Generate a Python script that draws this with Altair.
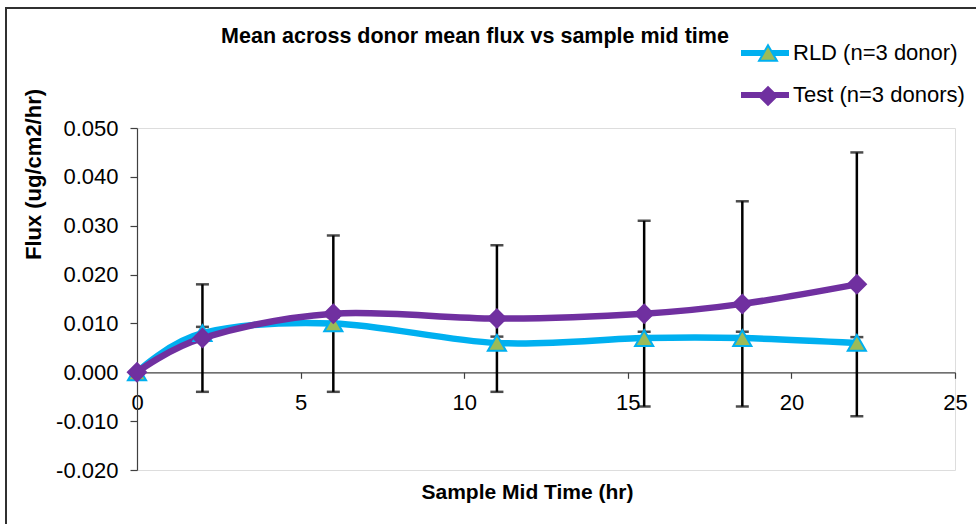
import altair as alt
import pandas as pd

# Sample mid times (hr) and mean flux (ug/cm2/hr) with SD across donors
times = [0, 2, 6, 11, 15.5, 18.5, 22]
rld_mean = [0.000, 0.008, 0.010, 0.006, 0.007, 0.007, 0.006]
rld_sd = [0.0, 0.0013, 0.0013, 0.0013, 0.0013, 0.0013, 0.0012]
test_mean = [0.000, 0.007, 0.012, 0.011, 0.012, 0.014, 0.018]
test_sd = [0.0, 0.011, 0.016, 0.015, 0.019, 0.021, 0.027]

series_names = ["RLD (n=3 donor)", "Test (n=3 donors)"]
line_colors = ["#00B0F0", "#7030A0"]
marker_fills = ["#9BBB59", "#7030A0"]
marker_strokes = ["#00B0F0", "#7030A0"]
marker_shapes = ["triangle-up", "diamond"]

x_ticks = [0, 5, 10, 15, 20, 25]
y_ticks = [-0.02, -0.01, 0.0, 0.01, 0.02, 0.03, 0.04, 0.05]

FONT = "Liberation Sans"

rows = []
for name, means, sds in [(series_names[0], rld_mean, rld_sd),
                         (series_names[1], test_mean, test_sd)]:
    for t, m, s in zip(times, means, sds):
        rows.append({"series": name, "time": t, "mean": m, "sd": s,
                     "lo": m - s, "hi": m + s})
df = pd.DataFrame(rows)

W, H = 818, 342
PAD_L, PAD_T = 137, 128

x_enc = alt.X(
    "time:Q",
    scale=alt.Scale(domain=[0, 25], nice=False, zero=False),
    axis=alt.Axis(
        values=x_ticks, format="d", title="Sample Mid Time (hr)",
        offset=-(H * 0.02 / 0.07), grid=False,
        labelFont=FONT, labelFontSize=22, labelColor="#000000",
        labelPadding=14, tickSize=6, tickColor="#404040",
        domainColor="#404040", domainWidth=1.2, tickWidth=1.2,
        labelFlush=False, labelOverlap=False,
        titleFont=FONT, titleFontSize=21, titleFontWeight="bold",
        titleColor="#000000", titleX=390, titleY=120, titleBaseline="middle",
    ),
)
y_scale = alt.Scale(domain=[-0.02, 0.05], nice=False, zero=False)
y_axis = alt.Axis(
    values=y_ticks, title="Flux (ug/cm2/hr)", grid=False,
    labelExpr="(datum.value < 0 ? '-' : '') + format(abs(datum.value), '.3f')",
    labelFont=FONT, labelFontSize=22, labelColor="#000000",
    labelPadding=12, tickSize=7, tickColor="#404040", tickWidth=1.2,
    domainColor="#404040", domainWidth=1.2, labelFlush=False,
    labelOverlap=False,
    titleFont=FONT, titleFontSize=22, titleFontWeight="bold",
    titleColor="#000000", titleX=-104, titleY=46, titleAngle=270,
    titleAlign="center", titleBaseline="middle",
)

base = alt.Chart(df)

# Outer frame around the chart object
frame = alt.Chart(alt.Data(values=[{"k": 1}])).mark_rect(
    fill=None, stroke="#303030", strokeWidth=2
).encode(
    x=alt.value(6 - PAD_L), x2=alt.value(1000 - PAD_L),
    y=alt.value(8 - PAD_T), y2=alt.value(560 - PAD_T),
)

# Line legend carries the labels; marker legend overlays the symbols only
lines = base.mark_line(interpolate="cardinal", strokeWidth=6.5).encode(
    x=x_enc,
    y=alt.Y("mean:Q", scale=y_scale, axis=y_axis),
    color=alt.Color(
        "series:N",
        scale=alt.Scale(domain=series_names, range=line_colors),
        legend=alt.Legend(
            orient="none", legendX=617, legendY=-86, title=None,
            symbolType="M-3,0H3", symbolSize=256, symbolStrokeWidth=6,
            labelFont=FONT, labelFontSize=22, labelColor="#000000",
            labelOffset=17, labelLimit=400, rowPadding=18, padding=0,
            zindex=1,
        ),
    ),
)

bars = base.transform_filter("datum.sd > 0")

err_rules = bars.mark_rule(color="#000000", strokeWidth=2.5).encode(
    x="time:Q", y="lo:Q", y2="hi:Q"
)
cap_hi = bars.mark_tick(color="#000000", thickness=2.5, size=13,
                        orient="horizontal").encode(x="time:Q", y="hi:Q")
cap_lo = bars.mark_tick(color="#000000", thickness=2.5, size=13,
                        orient="horizontal").encode(x="time:Q", y="lo:Q")

marker_legend = dict(
    orient="none", legendX=620, legendY=-86, title=None,
    symbolSize=320, symbolStrokeWidth=2,
    labelFont=FONT, labelFontSize=22, labelExpr="''",
    labelOffset=16, rowPadding=18, padding=0, zindex=2,
)
points = base.mark_point(filled=True, size=330, strokeWidth=2,
                         opacity=1).encode(
    x="time:Q",
    y="mean:Q",
    shape=alt.Shape("series:N",
                    scale=alt.Scale(domain=series_names, range=marker_shapes),
                    legend=alt.Legend(**marker_legend)),
    fill=alt.Fill("series:N",
                  scale=alt.Scale(domain=series_names, range=marker_fills),
                  legend=alt.Legend(**marker_legend)),
    stroke=alt.Stroke("series:N",
                      scale=alt.Scale(domain=series_names, range=marker_strokes),
                      legend=alt.Legend(**marker_legend)),
)

chart = alt.layer(frame, lines, err_rules, cap_hi, cap_lo, points).properties(
    width=W, height=H,
    title=alt.Title(
        "Mean across donor mean flux vs sample mid time",
        font=FONT, fontSize=21.5, fontWeight="bold", color="#000000",
        anchor="middle", dx=-71, dy=44,
    ),
    autosize=alt.AutoSizeParams(type="none"),
    padding={"left": PAD_L, "top": PAD_T, "right": 976 - PAD_L - W,
             "bottom": 524 - PAD_T - H},
).resolve_scale(
    color="independent"
).configure_view(stroke=None).configure(background="#ffffff")

chart.save("out.html", embed_options={"renderer": "svg", "actions": False})
